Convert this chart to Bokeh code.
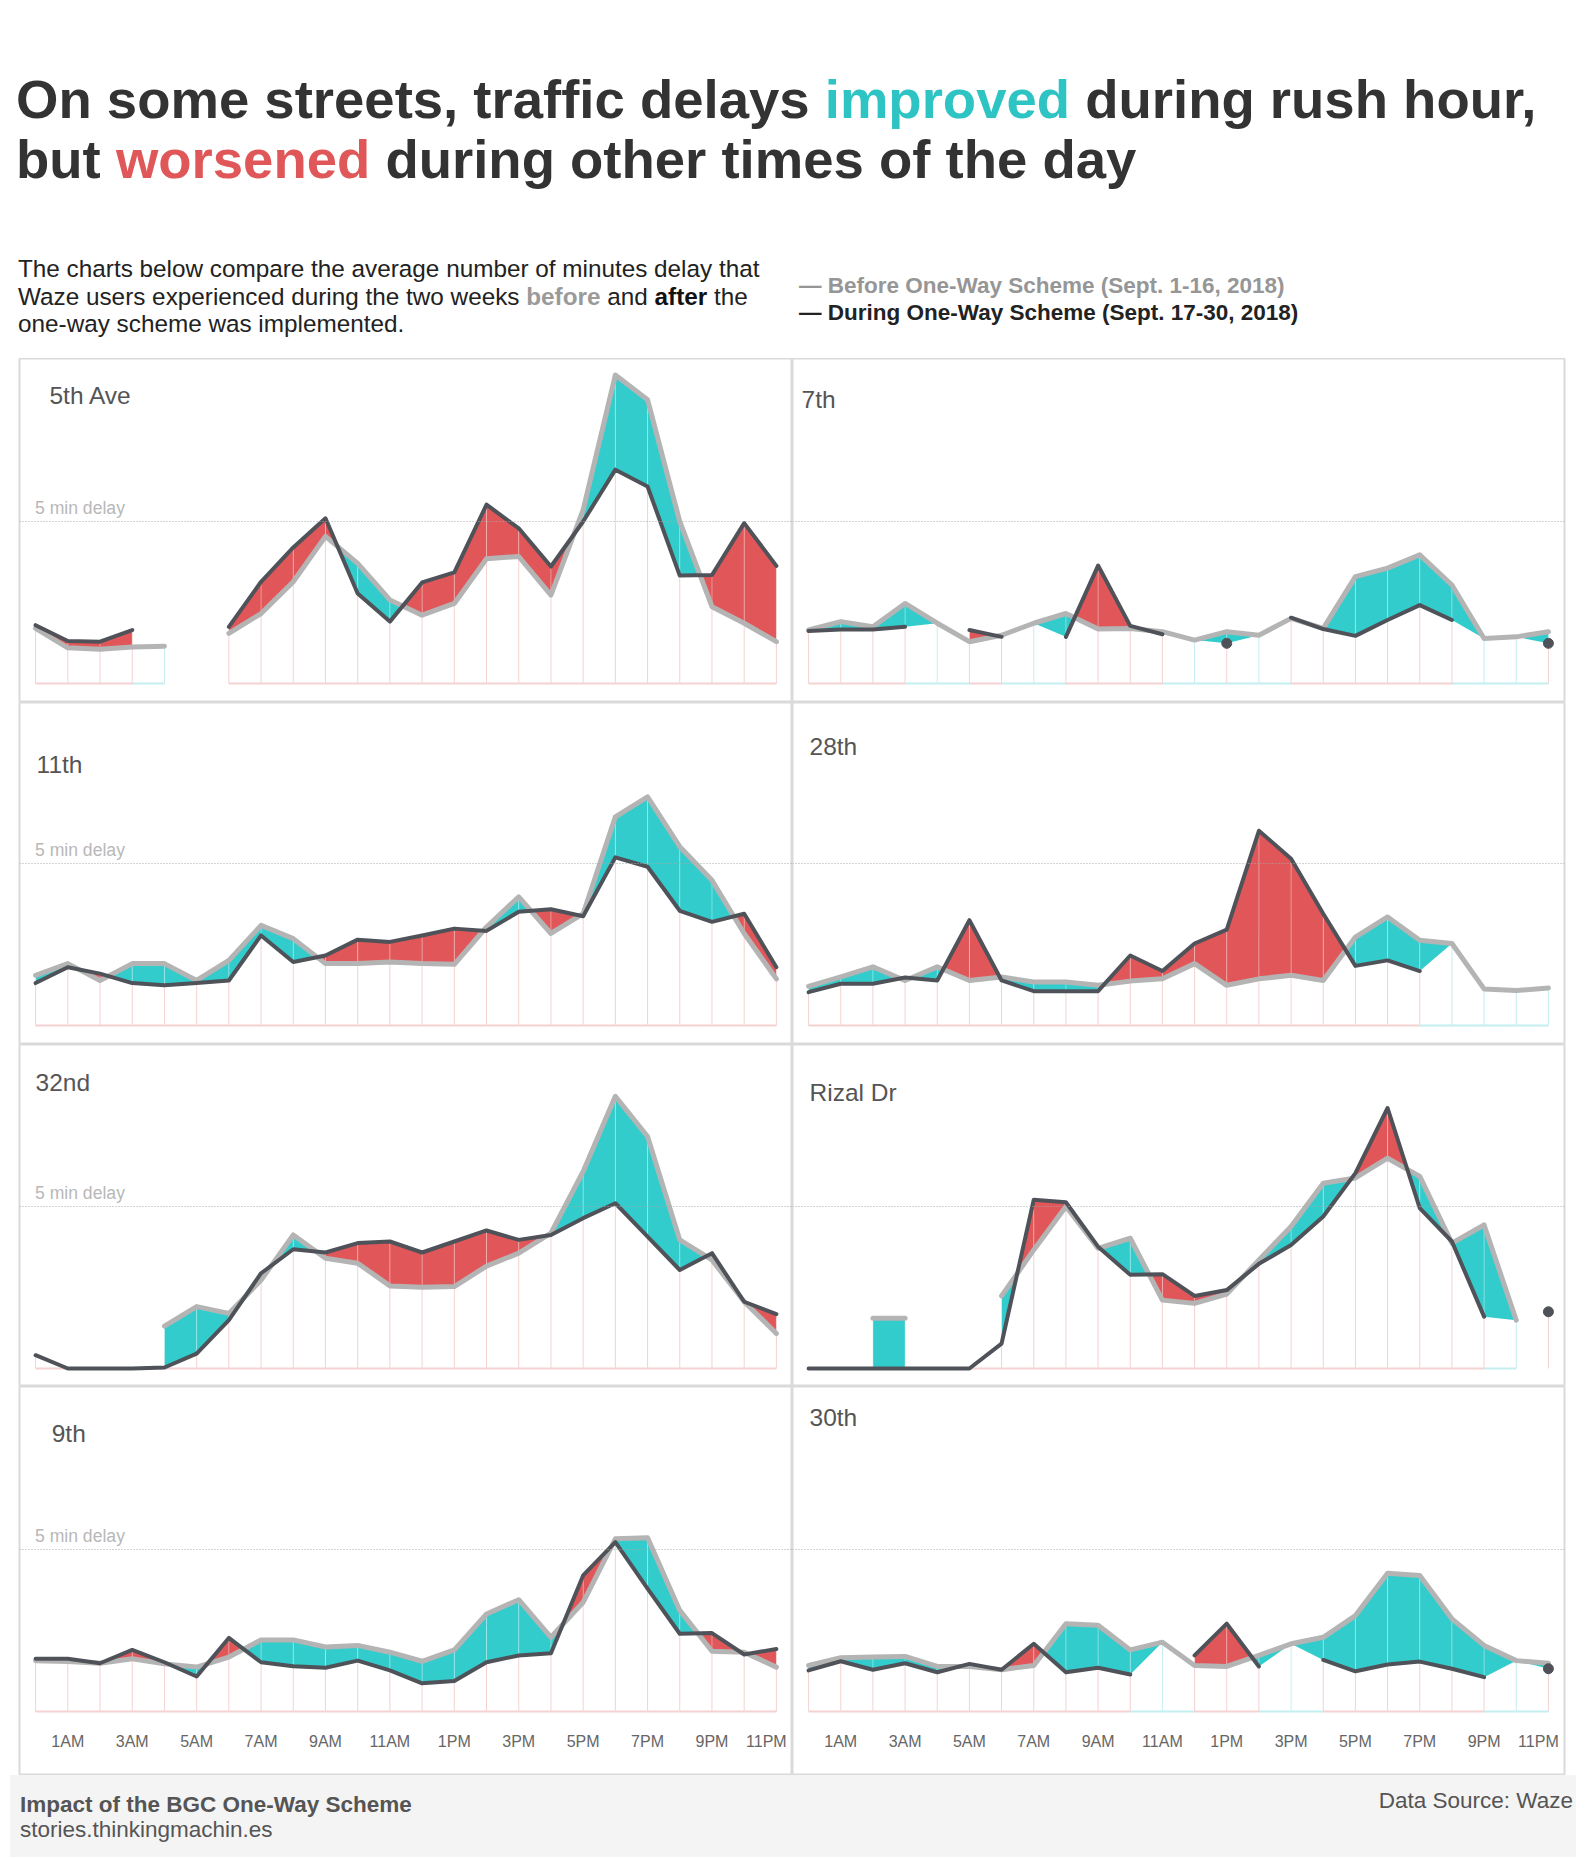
import math
from bokeh.plotting import figure
from bokeh.models import Span, Label, Div
from bokeh.layouts import column, row
from bokeh.core.properties import value
from bokeh.embed import file_html
from bokeh.resources import INLINE

# ---------------- data ----------------
N = None
HOURS = list(range(24))
TICK_HOURS = [1, 3, 5, 7, 9, 11, 13, 15, 17, 19, 21, 23]
TICK_LABELS = ["1AM", "3AM", "5AM", "7AM", "9AM", "11AM",
               "1PM", "3PM", "5PM", "7PM", "9PM", "11PM"]

STREETS = ["5th Ave", "7th", "11th", "28th", "32nd", "Rizal Dr", "9th", "30th"]

BEFORE_5TH_AVE = [1.70, 1.10, 1.06, 1.13, 1.15, N, 1.55, 2.16, 3.14, 4.54, 3.71, 2.58,
                  2.11, 2.47, 3.85, 3.92, 2.73, 5.36, 9.52, 8.76, 5.00, 2.37, 1.86, 1.29]
DURING_5TH_AVE = [1.80, 1.31, 1.29, 1.65, N, N, 1.75, 3.14, 4.20, 5.10, 2.78, 1.91,
                  3.12, 3.43, 5.52, 4.79, 3.61, 5.00, 6.60, 6.08, 3.33, 3.35, 4.95, 3.63]

BEFORE_7TH = [1.65, 1.91, 1.75, 2.47, 1.86, 1.29, 1.49, 1.86, 2.16, 1.68, 1.70, 1.60,
              1.34, 1.60, 1.49, 2.01, 1.70, 3.30, 3.56, 3.97, 3.04, 1.39, 1.44, 1.60]
DURING_7TH = [1.62, 1.67, 1.67, 1.75, N, 1.65, 1.44, N, 1.44, 3.64, 1.78, 1.52,
              N, 1.24, N, 2.03, 1.68, 1.47, 1.96, 2.42, 1.96, N, N, 1.24]

BEFORE_11TH = [1.55, 1.91, 1.39, 1.91, 1.91, 1.39, 2.01, 3.09, 2.68, 1.91, 1.91, 1.96,
               1.91, 1.89, 3.04, 3.97, 2.84, 3.45, 6.44, 7.06, 5.52, 4.48, 2.84, 1.44]
DURING_11TH = [1.31, 1.80, 1.60, 1.31, 1.24, 1.31, 1.39, 2.78, 1.96, 2.16, 2.65, 2.58,
               2.78, 2.99, 2.92, 3.51, 3.59, 3.37, 5.19, 4.90, 3.54, 3.20, 3.45, 1.80]

BEFORE_28TH = [1.21, 1.50, 1.81, 1.39, 1.81, 1.39, 1.50, 1.34, 1.34, 1.24, 1.37, 1.44,
               1.91, 1.24, 1.44, 1.55, 1.39, 2.73, 3.35, 2.63, 2.53, 1.13, 1.08, 1.16]
DURING_28TH = [1.03, 1.29, 1.29, 1.48, 1.39, 3.25, 1.39, 1.06, 1.06, 1.06, 2.16, 1.68,
               2.53, 2.96, 6.01, 5.15, 3.45, 1.84, 2.01, 1.68, N, N, N, N]

BEFORE_32ND = [N, N, N, N, 1.31, 1.91, 1.70, 2.73, 4.12, 3.40, 3.25, 2.55,
               2.51, 2.53, 3.16, 3.56, 4.18, 6.08, 8.40, 7.16, 3.97, 3.35, 2.06, 1.08]
DURING_32ND = [0.41, 0.00, 0.00, 0.00, 0.03, 0.46, 1.49, 2.94, 3.68, 3.58, 3.87, 3.92,
               3.58, 3.92, 4.26, 3.97, 4.12, 4.64, 5.10, 4.07, 3.04, 3.56, 2.06, 1.68]

BEFORE_RIZAL = [N, N, 1.55, 1.55, N, N, 2.24, 3.66, 5.00, 3.71, 4.02, 2.11,
                2.01, 2.30, 3.35, 4.38, 5.72, 5.88, 6.49, 5.93, 3.87, 4.43, 1.49, N]
DURING_RIZAL = [0.00, 0.00, 0.00, 0.00, 0.00, 0.00, 0.77, 5.21, 5.13, 3.76, 2.89, 2.91,
                2.24, 2.42, 3.23, 3.81, 4.69, 6.03, 8.04, 4.95, 3.92, 1.60, N, 1.75]

BEFORE_9TH = [1.57, 1.54, 1.49, 1.63, 1.47, 1.37, 1.68, 2.21, 2.21, 1.99, 2.04, 1.83,
              1.55, 1.90, 3.01, 3.45, 2.29, 3.37, 5.33, 5.36, 3.12, 1.86, 1.83, 1.37]
DURING_9TH = [1.63, 1.63, 1.49, 1.90, 1.52, 1.08, 2.27, 1.52, 1.40, 1.35, 1.57, 1.27,
              0.87, 0.94, 1.52, 1.73, 1.80, 4.20, 5.23, 3.79, 2.40, 2.42, 1.76, 1.93]

BEFORE_30TH = [1.42, 1.66, 1.68, 1.70, 1.39, 1.39, 1.29, 1.42, 2.71, 2.66, 1.90, 2.14,
               1.42, 1.39, 1.73, 2.09, 2.29, 2.96, 4.27, 4.20, 2.86, 2.04, 1.57, 1.49]
DURING_30TH = [1.27, 1.55, 1.29, 1.49, 1.21, 1.47, 1.29, 2.09, 1.21, 1.35, 1.14, N,
               1.73, 2.71, 1.39, N, 1.59, 1.24, 1.45, 1.54, 1.32, 1.06, N, 1.32]

DELAY_MARK = 5  # minutes, dotted reference line

# ---------------- texts ----------------
TITLE_1 = ["On some streets, traffic delays ", "improved", " during rush hour,"]
TITLE_2 = ["but ", "worsened", " during other times of the day"]
INTRO = ["The charts below compare the average number of minutes delay that",
         "Waze users experienced during the two weeks ", "before", " and ", "after", " the",
         "one-way scheme was implemented."]
LEGEND_BEFORE = "\u2014 Before One-Way Scheme (Sept. 1-16, 2018)"
LEGEND_DURING = "\u2014 During One-Way Scheme (Sept. 17-30, 2018)"
FOOT_TITLE = "Impact of the BGC One-Way Scheme"
FOOT_URL = "stories.thinkingmachin.es"
FOOT_SOURCE = "Data Source: Waze"
DELAY_TEXT = "5 min delay"

# ---------------- styles ----------------
FONT = "Liberation Sans"
TEAL = "#33cccc"
RED = "#e15759"
TEAL_TXT = "#2ec4c4"
RED_TXT = "#e05759"
GRAY_LINE = "#b4b4b4"
DARK_LINE = "#4f5359"
PINK = "#f4d2d2"
CYAN = "#c4eef0"
BORDER = "#dadada"
PX_PER_MIN = 32.4
LABEL_DROP_PX = 30
TEXT_LIFT = 8 / PX_PER_MIN  # raise panel texts slightly

PANELS = [
    (STREETS[0], BEFORE_5TH_AVE, DURING_5TH_AVE),
    (STREETS[1], BEFORE_7TH, DURING_7TH),
    (STREETS[2], BEFORE_11TH, DURING_11TH),
    (STREETS[3], BEFORE_28TH, DURING_28TH),
    (STREETS[4], BEFORE_32ND, DURING_32ND),
    (STREETS[5], BEFORE_RIZAL, DURING_RIZAL),
    (STREETS[6], BEFORE_9TH, DURING_9TH),
    (STREETS[7], BEFORE_30TH, DURING_30TH),
]
TITLE_POS = [(0.43, 8.64), (-0.22, 8.52), (0.03, 7.81), (0.03, 8.36),
             (0.0, 8.58), (0.03, 8.27), (0.5, 8.33), (0.03, 8.83)]
ROW_PX = [(344, 325), (342, 323), (342, 324), (389, 325)]  # (height, baseline offset from top)
LABEL_SHIFT = [0] * 11 + [-10]  # keep the last hour label inside the pane


def nanify(vals):
    return [float("nan") if v is None else v for v in vals]


def fill_polys(before, during):
    teal_xs, teal_ys, red_xs, red_ys = [], [], [], []

    def put(xs, ys, g):
        if g > 0:
            red_xs.append(xs); red_ys.append(ys)
        elif g < 0:
            teal_xs.append(xs); teal_ys.append(ys)

    for h in range(len(HOURS) - 1):
        x0, x1 = HOURS[h], HOURS[h + 1]
        b0, b1, d0, d1 = before[h], before[h + 1], during[h], during[h + 1]
        bb = b0 is not None and b1 is not None
        dd = d0 is not None and d1 is not None
        if bb and dd:
            g0, g1 = d0 - b0, d1 - b1
            if g0 * g1 < 0:
                t = g0 / (g0 - g1)
                xc = x0 + t * (x1 - x0)
                yc = b0 + t * (b1 - b0)
                put([x0, xc, x0], [b0, yc, d0], g0)
                put([xc, x1, x1], [yc, b1, d1], g1)
            else:
                put([x0, x1, x1, x0], [b0, b1, d1, d0], g0 + g1)
        elif bb:
            m0 = min(b0, d0) if d0 is not None else b0
            m1 = min(b1, d1) if d1 is not None else b1
            if m0 < b0 or m1 < b1:
                put([x0, x1, x1, x0], [b0, b1, m1, m0], -1)
        elif dd:
            m0 = min(d0, b0) if b0 is not None else d0
            m1 = min(d1, b1) if b1 is not None else d1
            if m0 < d0 or m1 < d1:
                put([x0, x1, x1, x0], [d0, d1, m1, m0], 1)
    return teal_xs, teal_ys, red_xs, red_ys


def make_panel(idx, width, height, base_px, left_pad, right_pad, bottom_axis, show_delay):
    name, before, during = PANELS[idx]
    y_end = base_px / PX_PER_MIN
    y_start = -(height - base_px) / PX_PER_MIN
    p = figure(width=width, height=height, x_range=(-0.5, 23.5), y_range=(y_start, y_end),
               x_axis_type=None, y_axis_type=None, tools="", toolbar_location=None,
               output_backend="svg", min_border_left=left_pad, min_border_right=right_pad,
               min_border_top=0, min_border_bottom=0,
               outline_line_color=BORDER, outline_line_width=2,
               background_fill_color="white", border_fill_color="white")

    p.add_layout(Span(location=DELAY_MARK, dimension="width", line_color="#a8a8a8",
                      line_width=1, line_dash="1 2"))

    tx, ty, rx, ry = fill_polys(before, during)
    if tx:
        p.patches(tx, ty, fill_color=TEAL, line_color=None)
    if rx:
        p.patches(rx, ry, fill_color=RED, line_color=None)

    # baseline segments (white area borders)
    cx0, cx1, px0, px1 = [], [], [], []
    for h in range(len(HOURS) - 1):
        if during[h] is not None and during[h + 1] is not None:
            px0.append(HOURS[h]); px1.append(HOURS[h + 1])
        elif before[h] is not None and before[h + 1] is not None:
            cx0.append(HOURS[h]); cx1.append(HOURS[h + 1])
    if cx0:
        p.segment(x0=cx0, y0=[0] * len(cx0), x1=cx1, y1=[0] * len(cx0), line_color=CYAN, line_width=2)
    if px0:
        p.segment(x0=px0, y0=[0] * len(px0), x1=px1, y1=[0] * len(px0), line_color=PINK, line_width=2)

    # drop lines
    dx, dtop, dcol = [], [], []
    ix, ilo, ihi = [], [], []
    for h in HOURS:
        vals = [v for v in (before[h], during[h]) if v is not None]
        if not vals:
            continue
        dx.append(HOURS[h]); dtop.append(min(vals))
        dcol.append(PINK if during[h] is not None else CYAN)
        if len(vals) == 2 and abs(vals[0] - vals[1]) > 0.05:
            ix.append(HOURS[h]); ilo.append(min(vals)); ihi.append(max(vals))
    p.segment(x0=dx, y0=[0] * len(dx), x1=dx, y1=dtop, line_color=dcol, line_width=1)
    if ix:
        p.segment(x0=ix, y0=ilo, x1=ix, y1=ihi, line_color="white", line_alpha=0.35, line_width=1)

    p.line(HOURS, nanify(before), line_color=GRAY_LINE, line_width=5, line_join="round", line_cap="round")
    p.line(HOURS, nanify(during), line_color=DARK_LINE, line_width=4, line_join="round", line_cap="round")

    # isolated points
    def isolated(vals):
        out = []
        for h in HOURS:
            if vals[h] is None:
                continue
            left = vals[h - 1] if h > 0 else None
            right = vals[h + 1] if h < len(HOURS) - 1 else None
            if left is None and right is None:
                out.append(h)
        return out
    ib = isolated(before)
    if ib:
        p.scatter([HOURS[h] for h in ib], [before[h] for h in ib], size=9, color=GRAY_LINE)
    idr = isolated(during)
    if idr:
        p.scatter([HOURS[h] for h in idr], [during[h] for h in idr], size=10, color=DARK_LINE)

    lx, ly = TITLE_POS[idx]
    p.add_layout(Label(x=lx, y=ly + TEXT_LIFT, text=name, text_font=FONT, text_font_size="24.5px",
                       text_color="#555555", text_baseline="alphabetic", text_align="left"))
    if show_delay:
        p.add_layout(Label(x=-0.02, y=DELAY_MARK + 0.18 + TEXT_LIFT, text=DELAY_TEXT, text_font=FONT,
                           text_font_size="17.6px", text_color="#b8b8b8",
                           text_baseline="alphabetic", text_align="left"))

    if bottom_axis:
        p.text(x=TICK_HOURS, y=[-LABEL_DROP_PX / PX_PER_MIN] * len(TICK_HOURS), text=TICK_LABELS,
               x_offset=LABEL_SHIFT, text_align="center", text_baseline="alphabetic",
               text_font=value(FONT), text_font_size="16px", text_color="#666666")
    return p


rows = []
for r, (hgt, base) in enumerate(ROW_PX):
    last = r == len(ROW_PX) - 1
    left = make_panel(2 * r, 792, hgt, base, 19, 0, last, True)
    right = make_panel(2 * r + 1, 790, hgt, base, 0, 18, last, False)
    rows.append(row(left, right, spacing=0))

header_html = (
    '<div style="position:relative;width:1582px;height:358px;'
    "font-family:'Liberation Sans',Arial,sans-serif;\">"
    '<div style="position:absolute;left:16px;top:70px;font-size:54.5px;font-weight:bold;'
    'line-height:60px;color:#333333;white-space:nowrap;">'
    f'{TITLE_1[0]}<span style="color:{TEAL_TXT}">{TITLE_1[1]}</span>{TITLE_1[2]}<br>'
    f'{TITLE_2[0]}<span style="color:{RED_TXT}">{TITLE_2[1]}</span>{TITLE_2[2]}</div>'
    '<div style="position:absolute;left:18px;top:255px;font-size:24.3px;line-height:27.5px;'
    'color:#222222;white-space:nowrap;">'
    f'{INTRO[0]}<br>{INTRO[1]}<b style="color:#9a9a9a">{INTRO[2]}</b>{INTRO[3]}'
    f'<b style="color:#111111">{INTRO[4]}</b>{INTRO[5]}<br>{INTRO[6]}</div>'
    '<div style="position:absolute;left:799px;top:272px;font-size:22.5px;line-height:27px;'
    'font-weight:bold;white-space:nowrap;">'
    f'<span style="color:#969696">{LEGEND_BEFORE}</span><br>'
    f'<span style="color:#222222">{LEGEND_DURING}</span></div>'
    '</div>'
)
header = Div(text=header_html, width=1582, height=358, margin=0)

footer_html = (
    '<div style="position:relative;width:1582px;height:82px;'
    "font-family:'Liberation Sans',Arial,sans-serif;\">"
    '<div style="position:absolute;left:10px;top:0px;width:1566px;height:82px;background:#f4f4f4;"></div>'
    '<div style="position:absolute;left:20px;top:17px;font-size:22.5px;line-height:25px;'
    f'font-weight:bold;color:#555555;white-space:nowrap;">{FOOT_TITLE}</div>'
    '<div style="position:absolute;left:20px;top:42px;font-size:22.5px;line-height:25px;'
    f'color:#555555;white-space:nowrap;">{FOOT_URL}</div>'
    '<div style="position:absolute;right:9px;top:13px;font-size:22.5px;line-height:25px;'
    f'color:#555555;white-space:nowrap;">{FOOT_SOURCE}</div>'
    '</div>'
)
footer = Div(text=footer_html, width=1582, height=82, margin=0)

layout = column(header, *rows, footer, spacing=0)
open("out.html", "w").write(file_html(layout, INLINE, title="BGC One-Way Scheme"))
